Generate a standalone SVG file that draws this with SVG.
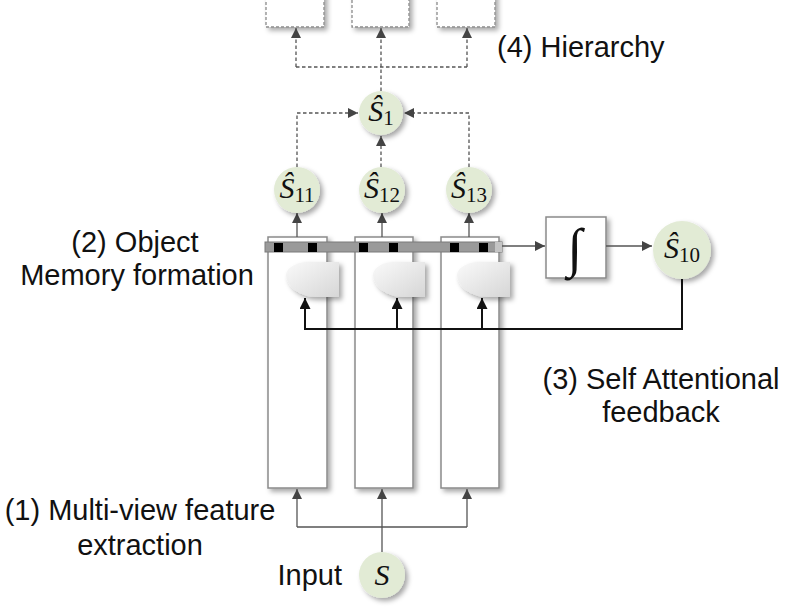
<svg xmlns="http://www.w3.org/2000/svg" width="787" height="609" viewBox="0 0 787 609">
<style>
.lbl{font-family:"Liberation Sans",Arial,sans-serif;font-size:29px;fill:#111}
.math{font-family:"Liberation Serif","DejaVu Serif",serif;font-size:30px;fill:#111}
.sub{font-style:normal;font-size:21px}
.node{fill:#e2ebd5;filter:url(#sh)}
.box{fill:#fff;stroke:#8a8a8a;stroke-width:1.5;filter:url(#sh)}
.dbox{fill:#fff;stroke:#8a8a8a;stroke-width:1.3;stroke-dasharray:3 2;filter:url(#sh)}
.ln{fill:none;stroke:#555;stroke-width:1.3}
.dl{fill:none;stroke:#555;stroke-width:1.3;stroke-dasharray:3.5 2.5}
.fb{fill:none;stroke:#111;stroke-width:2}
.gate{fill:url(#gg);filter:url(#sh)}
</style>
<defs>
<filter id="sh" x="-30%" y="-30%" width="160%" height="160%">
<feDropShadow dx="3" dy="3" stdDeviation="2.5" flood-color="#000" flood-opacity="0.35"/>
</filter>
<linearGradient id="gg" x1="0" y1="0" x2="1" y2="1">
<stop offset="0" stop-color="#fafafa"/>
<stop offset="1" stop-color="#d6d6d6"/>
</linearGradient>
<marker id="ah" viewBox="0 0 10 10" refX="10" refY="5" markerWidth="10" markerHeight="10" markerUnits="userSpaceOnUse" orient="auto">
<path d="M0,0 L10,5 L0,10 Z" fill="#444"/>
</marker>
<marker id="ahb" viewBox="0 0 10 10" refX="10" refY="5" markerWidth="11" markerHeight="11" markerUnits="userSpaceOnUse" orient="auto">
<path d="M0,0 L10,5 L0,10 Z" fill="#111"/>
</marker>
</defs>

<g id="hier-boxes">
<rect id="h1" class="dbox" x="266" y="-10" width="58" height="37"/>
<rect id="h2" class="dbox" x="352" y="-10" width="57" height="37"/>
<rect id="h3" class="dbox" x="437" y="-10" width="58" height="37"/>
</g>

<g id="columns">
<rect id="col1" class="box" x="268" y="237" width="59" height="251"/>
<rect id="col2" class="box" x="355" y="237" width="58" height="251"/>
<rect id="col3" class="box" x="441" y="237" width="58" height="251"/>
</g>

<g id="memory-bar">
<rect x="265" y="242" width="237" height="10" fill="#9a9a9a" stroke="#7a7a7a" stroke-width="1"/>
<rect x="495" y="242" width="7" height="10" fill="#c4c4c4"/>
<g fill="#000">
<rect x="274" y="243" width="9" height="9"/>
<rect x="308" y="243" width="9" height="9"/>
<rect x="359" y="243" width="9" height="9"/>
<rect x="389" y="243" width="9" height="9"/>
<rect x="450" y="243" width="9" height="9"/>
<rect x="479" y="243" width="9" height="9"/>
</g>
</g>

<g id="gates">
<path id="g1" class="gate" d="M339,262 L306,262 C294,263 286,269 286,275 C286,286 300,297 316,297 L339,297 Z"/>
<path id="g2" class="gate" d="M425,262 L392,262 C380,263 373,269 373,275 C373,286 387,297 403,297 L425,297 Z"/>
<path id="g3" class="gate" d="M510,262 L477,262 C465,263 457,269 457,275 C457,286 471,297 487,297 L510,297 Z"/>
</g>

<g id="integrator">
<rect class="box" x="546" y="217" width="60" height="61"/>
<text x="575" y="266" text-anchor="middle" font-family="'Liberation Serif','DejaVu Serif',serif" font-style="italic" font-size="54" fill="#111">∫</text>
</g>

<g id="connectors">
<path class="dl" d="M381,91 V67"/>
<path class="dl" d="M296,67 H467"/>
<path class="dl" d="M296,67 V28" marker-end="url(#ah)"/>
<path class="dl" d="M381,67 V28" marker-end="url(#ah)"/>
<path class="dl" d="M467,67 V28" marker-end="url(#ah)"/>
<path class="dl" d="M297,167 V113 H358" marker-end="url(#ah)"/>
<path class="dl" d="M469,167 V113 H404" marker-end="url(#ah)"/>
<path class="dl" d="M381,167 V136" marker-end="url(#ah)"/>
<path class="ln" d="M297,237 V213" marker-end="url(#ah)"/>
<path class="ln" d="M382,237 V213" marker-end="url(#ah)"/>
<path class="ln" d="M469,237 V213" marker-end="url(#ah)"/>
<path class="ln" d="M502,246 H545" marker-end="url(#ah)"/>
<path class="ln" d="M606,246 H652" marker-end="url(#ah)"/>
<path class="fb" d="M682,279 V329 H305 V298" marker-end="url(#ahb)"/>
<path class="fb" d="M397,329 V298" marker-end="url(#ahb)"/>
<path class="fb" d="M482,329 V298" marker-end="url(#ahb)"/>
<path class="ln" d="M382,552 V489" marker-end="url(#ah)"/>
<path class="ln" d="M297,527 H467"/>
<path class="ln" d="M297,527 V489" marker-end="url(#ah)"/>
<path class="ln" d="M467,527 V489" marker-end="url(#ah)"/>
</g>

<g id="n-s1">
<circle class="node" cx="381" cy="113" r="22"/>
<text class="math" x="381" y="121" text-anchor="middle"><tspan font-style="italic">Ŝ</tspan><tspan class="sub" dy="4">1</tspan></text>
</g>
<g id="n-s11">
<circle class="node" cx="297" cy="190" r="23"/>
<text class="math" x="297" y="198" text-anchor="middle"><tspan font-style="italic">Ŝ</tspan><tspan class="sub" dy="4">11</tspan></text>
</g>
<g id="n-s12">
<circle class="node" cx="382" cy="190" r="23"/>
<text class="math" x="382" y="198" text-anchor="middle"><tspan font-style="italic">Ŝ</tspan><tspan class="sub" dy="4">12</tspan></text>
</g>
<g id="n-s13">
<circle class="node" cx="469" cy="190" r="23"/>
<text class="math" x="469" y="198" text-anchor="middle"><tspan font-style="italic">Ŝ</tspan><tspan class="sub" dy="4">13</tspan></text>
</g>
<g id="n-s10">
<circle class="node" cx="682" cy="250" r="29"/>
<text class="math" x="682" y="258" text-anchor="middle"><tspan font-style="italic">Ŝ</tspan><tspan class="sub" dy="4">10</tspan></text>
</g>
<g id="n-input">
<circle class="node" cx="382" cy="575" r="23"/>
<text class="math" x="382" y="585" text-anchor="middle" font-style="italic">S</text>
</g>

<g id="labels">
<text class="lbl" x="497" y="57">(4) Hierarchy</text>
<text class="lbl" x="135" y="252" text-anchor="middle">(2) Object</text>
<text class="lbl" x="137" y="285" text-anchor="middle">Memory formation</text>
<text class="lbl" x="661" y="389" text-anchor="middle">(3) Self Attentional</text>
<text class="lbl" x="661" y="422" text-anchor="middle">feedback</text>
<text class="lbl" x="140" y="520" text-anchor="middle">(1) Multi-view feature</text>
<text class="lbl" x="140" y="555" text-anchor="middle">extraction</text>
<text class="lbl" x="342" y="585" text-anchor="end">Input</text>
</g>
</svg>
